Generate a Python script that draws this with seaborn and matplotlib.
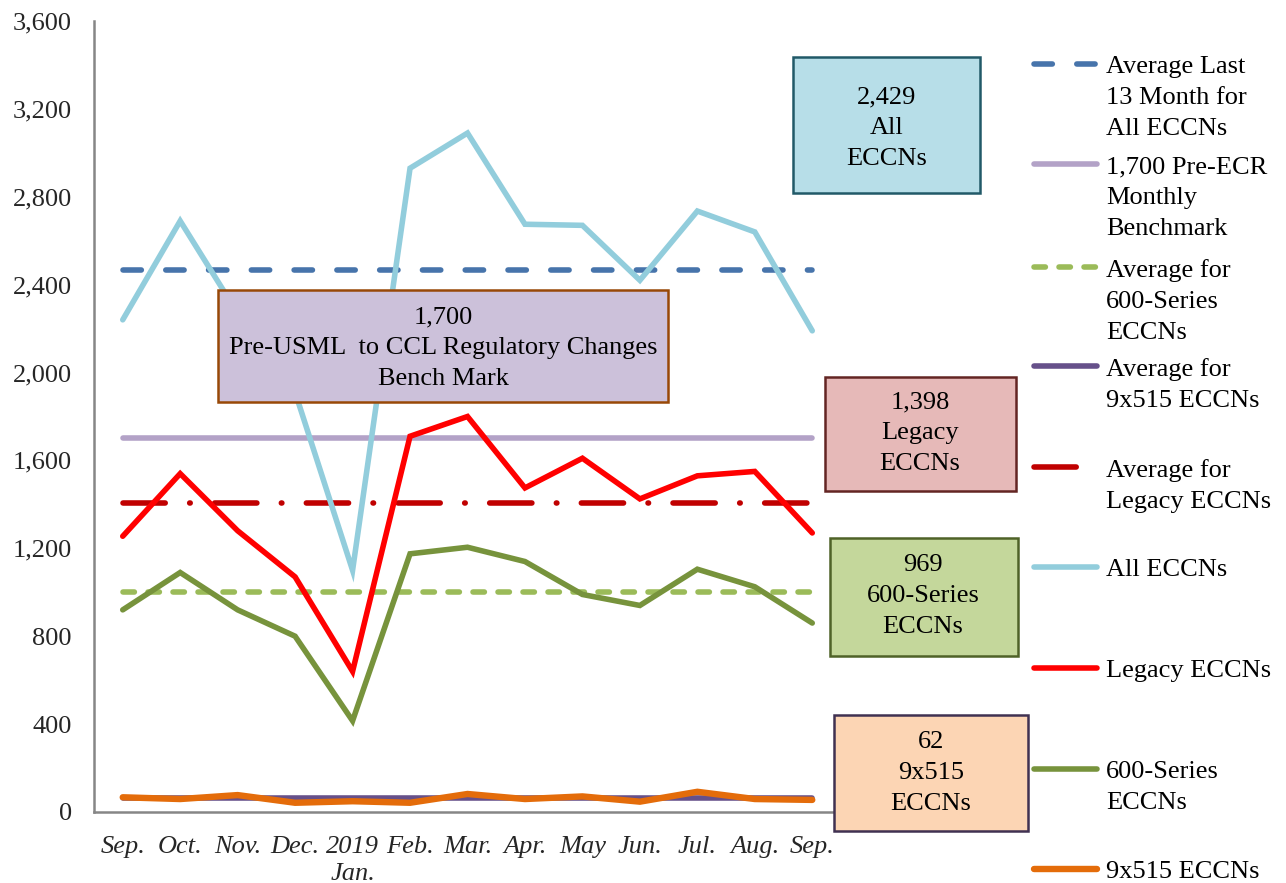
import numpy as np
import pandas as pd
import matplotlib
matplotlib.use("Agg")
import matplotlib.pyplot as plt
from matplotlib.lines import Line2D
from matplotlib.patches import Rectangle
from matplotlib.ticker import FuncFormatter
import seaborn as sns

# ---------------- data ----------------
months = ["Sep.", "Oct.", "Nov.", "Dec.", "2019\nJan.", "Feb.", "Mar.", "Apr.",
          "May", "Jun.", "Jul.", "Aug.", "Sep."]
all_eccns = [2240, 2690, 2270, 1910, 1100, 2930, 3090, 2675, 2670, 2420, 2735, 2640, 2190]
legacy_eccns = [1255, 1540, 1280, 1070, 640, 1710, 1800, 1475, 1610, 1425, 1530, 1550, 1270]
series600_eccns = [920, 1090, 920, 800, 415, 1175, 1205, 1140, 990, 940, 1105, 1025, 860]
x515_eccns = [67, 59, 77, 42, 49, 42, 82, 59, 71, 47, 92, 59, 55]

avg_all_line = 2465
benchmark_line = 1700
avg_600_line = 1000
avg_515_line = 64
avg_legacy_line = 1405

box_texts = ["2,429\nAll\nECCNs",
             "1,700\nPre-USML  to CCL Regulatory Changes\nBench Mark",
             "1,398\nLegacy\nECCNs",
             "969\n600-Series\nECCNs",
             "62\n9x515\nECCNs"]

legend_labels = ["Average Last\n13 Month for\nAll ECCNs",
                 "1,700 Pre-ECR\nMonthly\nBenchmark",
                 "Average for\n600-Series\nECCNs",
                 "Average for\n9x515 ECCNs",
                 "Average for\nLegacy ECCNs",
                 "All ECCNs",
                 "Legacy ECCNs",
                 "600-Series\nECCNs",
                 "9x515 ECCNs"]

# ---------------- style ----------------
sns.set_style("white")
plt.rcParams["font.family"] = ["Liberation Serif", "DejaVu Serif"]
FS = 19
LSP = 1.52

W, H = 1286, 883
fig = plt.figure(figsize=(W / 100, H / 100), dpi=100)
ax = fig.add_axes([94 / W, 1 - 812 / H, (841 - 94) / W, (812 - 21) / H])

x = np.arange(len(months))

def px(xp, yp):
    return xp / W, 1 - yp / H

LW = 4.0
specs = [
    # values, color, linestyle, lw, zorder
    (np.full(len(x), avg_all_line), "#4774ab", (0, (3.3, 4.4)), LW, 2),
    (np.full(len(x), benchmark_line), "#b3a2c7", "-", LW, 2),
    (np.full(len(x), avg_600_line), "#9bbb59", (0, (2.05, 2.45)), LW, 2),
    (np.full(len(x), avg_515_line), "#66508a", "-", LW, 2),
    (np.full(len(x), avg_legacy_line), "#c00000", (0, (7.6, 4.4, 0.1, 4.4)), LW, 2),
    (np.array(all_eccns), "#92cddc", "-", LW, 3),
    (np.array(legacy_eccns), "#ff0000", "-", LW, 3),
    (np.array(series600_eccns), "#77933c", "-", LW, 3),
    (np.array(x515_eccns), "#e46c0a", "-", 4.6, 3),
]

for vals, color, ls, lw, z in specs:
    df = pd.DataFrame({"x": x, "y": vals})
    sns.lineplot(data=df, x="x", y="y", ax=ax, color=color, linestyle=ls,
                 linewidth=lw, estimator=None, sort=False, zorder=z,
                 solid_capstyle="round", dash_capstyle="round",
                 solid_joinstyle="miter")

if ax.get_legend() is not None:
    ax.get_legend().remove()

ax.set_xlim(-0.5, len(x) - 0.5)
ax.set_ylim(0, 3600)
ax.set_xlabel("")
ax.set_ylabel("")
ax.set_yticks(np.arange(0, 3601, 400))
ax.yaxis.set_major_formatter(FuncFormatter(lambda v, p: f"{int(v):,}"))
ax.set_xticks(np.arange(-0.5, len(x), 1))
ax.set_xticklabels([])
ax.set_xticks(x, minor=True)
ax.set_xticklabels(months, minor=True, fontstyle="italic", fontsize=FS,
                   linespacing=1.3)
ax.tick_params(axis="x", which="minor", length=0, pad=17)
ax.tick_params(axis="x", which="major", length=6, width=1.5, color="#868686",
               direction="out")
ax.tick_params(axis="y", length=5, width=1.5, color="#868686", direction="out",
               labelsize=FS, pad=11)
for s in ["top", "right"]:
    ax.spines[s].set_visible(False)
for s in ["left", "bottom"]:
    ax.spines[s].set_color("#868686")
    ax.spines[s].set_linewidth(1.8)
ax.grid(False)

# ---------------- annotation boxes ----------------
boxes = [
    # x0, y0, x1, y1 (pixels), face, edge, text center
    (793, 57, 980, 193, "#b7dee8", "#215968", (887, 128)),
    (218, 290, 668, 402, "#ccc1da", "#984807", (443, 348)),
    (825, 377, 1016, 491, "#e6b9b8", "#632523", (920, 433)),
    (830, 538, 1018, 656, "#c4d79b", "#4f6228", (923, 596)),
    (834, 715, 1028, 831, "#fcd5b4", "#403151", (931, 773)),
]
for (x0, y0, x1, y1, fc, ec, (cx, cy)), txt in zip(boxes, box_texts):
    fx0, fy1 = px(x0, y1)
    rect = Rectangle((fx0, fy1), (x1 - x0) / W, (y1 - y0) / H,
                     transform=fig.transFigure, facecolor=fc, edgecolor=ec,
                     linewidth=1.8, zorder=10)
    fig.add_artist(rect)
    tx, ty = px(cx, cy)
    fig.text(tx, ty, txt, ha="center", va="center", multialignment="center",
             fontsize=FS, linespacing=LSP, zorder=11, color="black")

# ---------------- legend (manual) ----------------
legend_y = [64, 164, 267, 366, 467, 567, 668, 769, 869]
for (vals, color, ls, lw, z), lab, ly in zip(specs, legend_labels, legend_y):
    fxa, fy = px(1034, ly)
    fxb, _ = px(1097, ly)
    ln = Line2D([fxa, fxb], [fy, fy], transform=fig.transFigure, color=color,
                linestyle=ls, linewidth=lw, solid_capstyle="round",
                dash_capstyle="round")
    fig.add_artist(ln)
    tx, ty = px(1106, ly - 8)
    fig.text(tx, ty, lab, ha="left", va="top", fontsize=FS,
             linespacing=LSP, color="black")

fig.savefig("out.png", dpi=100)
